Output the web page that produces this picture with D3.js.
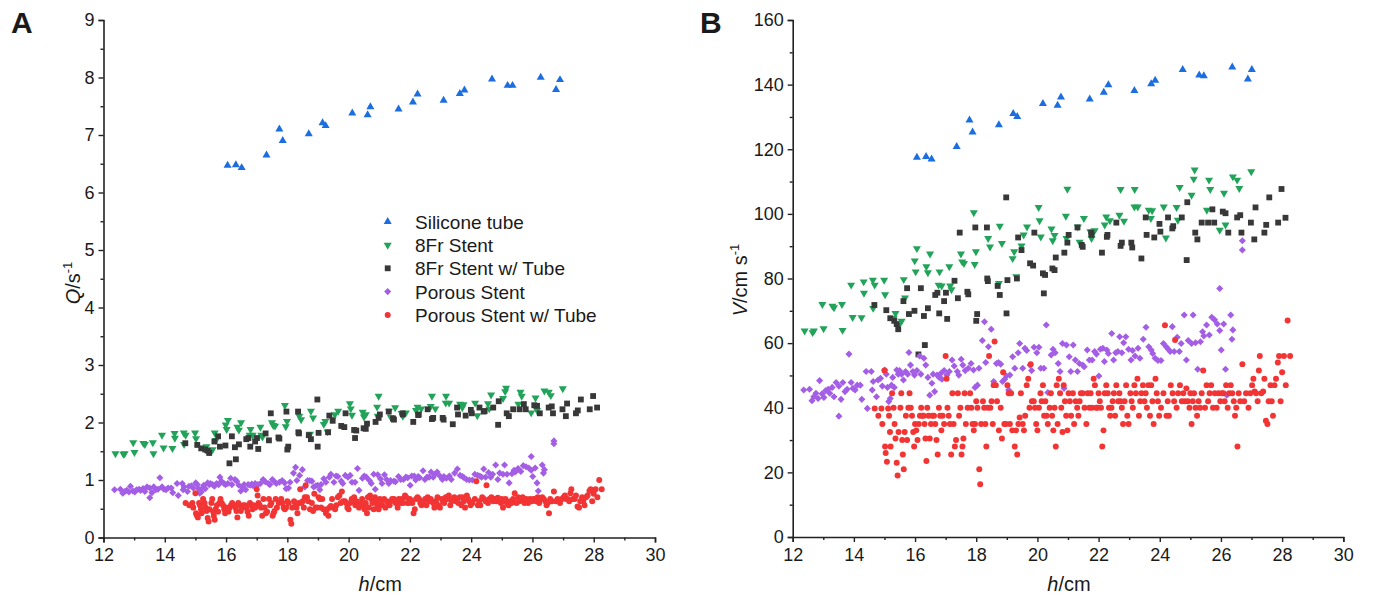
<!DOCTYPE html>
<html><head><meta charset="utf-8">
<script src="https://cdn.jsdelivr.net/npm/d3@7"></script>
<style>
body{margin:0;background:#fff}
svg{display:block}
text{font-family:"Liberation Sans",Arial,Helvetica,sans-serif;fill:#1a1a1a}
</style>
</head><body>
<svg id="chart" width="1373" height="601"></svg>
<script>
// ---------- tick labels ----------
const hTicks = [12, 14, 16, 18, 20, 22, 24, 26, 28, 30];
const hMinor = [13, 15, 17, 19, 21, 23, 25, 27, 29];
const qTicks = [0, 1, 2, 3, 4, 5, 6, 7, 8, 9];
const qMinor = [0.5, 1.5, 2.5, 3.5, 4.5, 5.5, 6.5, 7.5, 8.5];
const vTicks = [0, 20, 40, 60, 80, 100, 120, 140, 160];
const vMinor = [10, 30, 50, 70, 90, 110, 130, 150];

// ---------- categories ----------
const seriesNames = ["Silicone tube", "8Fr Stent", "8Fr Stent w/ Tube", "Porous Stent", "Porous Stent w/ Tube"];
const seriesColors = ["#1c6ee0", "#22a35a", "#383838", "#a45ee6", "#f23434"];

// ---------- Silicone tube ----------
const hSilicone = [16.05,16.32,16.51,17.32,17.74,17.85,18.70,19.15,19.25,20.12,20.62,20.71,21.63,22.10,22.25,23.10,23.63,23.78,24.68,25.19,25.35,26.27,26.77,26.90];
const qSilicone = [6.47,6.48,6.43,6.65,7.10,6.90,7.02,7.21,7.16,7.38,7.35,7.49,7.45,7.57,7.71,7.60,7.72,7.78,7.97,7.86,7.86,8.00,7.79,7.96];
const hSiliconeB = [16.06,16.36,16.54,17.36,17.78,17.88,18.74,19.21,19.34,20.18,20.66,20.77,21.71,22.17,22.32,23.17,23.72,23.85,24.75,25.29,25.44,26.37,26.88,27.01];
const vSilicone = [117.5,117.7,116.9,120.8,129.0,125.3,127.5,131.0,130.1,134.1,133.6,136.1,135.5,137.6,139.9,138.1,140.2,141.3,144.6,142.9,142.7,145.4,141.7,144.6];

// ---------- 8Fr Stent ----------
const h8Fr = [12.39,12.65,12.69,12.97,13.01,13.30,13.35,13.61,13.63,13.91,13.96,14.25,14.32,14.33,14.62,14.63,14.68,14.99,15.02,15.30,15.36,15.47,15.56,15.63,15.67,15.99,16.02,16.06,16.37,16.42,16.49,16.77,16.80,16.87,17.12,17.15,17.19,17.50,17.54,17.60,17.92,17.95,17.99,18.39,18.45,18.74,18.77,18.84,19.19,19.24,19.31,19.48,19.55,19.66,20.04,20.07,20.11,20.46,20.50,20.56,20.93,20.95,20.98,21.32,21.38,21.52,21.73,21.77,21.87,22.20,22.25,22.37,22.68,22.72,22.83,23.17,23.18,23.28,23.64,23.71,23.75,24.13,24.20,24.55,24.59,24.65,25.04,25.11,25.14,25.54,25.61,25.65,25.96,26.10,26.15,26.39,26.53,26.60,26.99];
const v8Fr = [63.8,63.3,63.8,72.0,64.5,71.5,71.0,72.0,64.0,78.0,68.0,67.9,79.0,75.5,79.5,70.8,78.0,79.5,75.0,67.7,69.2,65.6,66.8,79.7,74.0,85.5,82.1,89.3,83.7,81.8,87.6,78.0,82.1,77.7,83.7,77.7,76.6,87.6,85.2,84.7,100.4,84.4,88.3,92.4,89.8,78.5,96.2,90.9,86.2,88.3,80.6,90.1,93.5,96.0,102.0,97.9,92.9,95.4,91.7,93.4,99.3,92.4,107.7,96.0,91.3,98.6,94.5,92.4,94.8,96.6,99.1,97.9,99.6,107.6,97.8,102.2,107.6,102.2,101.2,98.6,101.0,102.2,92.6,102.0,98.1,108.2,105.8,110.8,113.6,101.2,110.5,107.6,95.0,106.4,96.6,111.5,110.5,107.9,113.1];
const q8Fr = [1.46,1.45,1.46,1.65,1.48,1.64,1.62,1.65,1.46,1.78,1.56,1.55,1.81,1.73,1.82,1.62,1.78,1.82,1.72,1.55,1.58,1.50,1.53,1.82,1.69,1.96,1.88,2.04,1.92,1.87,2.00,1.78,1.88,1.78,1.92,1.78,1.75,2.00,1.95,1.94,2.30,1.93,2.02,2.11,2.05,1.80,2.20,2.08,1.97,2.02,1.84,2.06,2.14,2.20,2.33,2.24,2.13,2.18,2.10,2.14,2.27,2.11,2.46,2.20,2.09,2.26,2.16,2.11,2.17,2.21,2.27,2.24,2.28,2.46,2.24,2.34,2.46,2.34,2.32,2.26,2.31,2.34,2.12,2.33,2.24,2.48,2.42,2.54,2.60,2.32,2.53,2.46,2.17,2.43,2.21,2.55,2.53,2.47,2.59];

// ---------- 8Fr Stent w/ Tube ----------
const h8FrT = [14.67,15.06,15.19,15.32,15.40,15.45,15.62,15.74,15.80,15.98,16.11,16.19,16.29,16.32,16.42,16.66,16.73,16.79,16.95,17.01,17.05,17.29,17.40,17.46,17.71,17.74,17.97,18.00,18.03,18.35,18.36,18.38,18.70,18.77,18.98,18.99,19.02,19.33,19.37,19.48,19.76,19.86,19.90,20.18,20.21,20.25,20.49,20.56,20.60,20.88,20.98,21.02,21.31,21.45,21.48,21.76,21.77,22.11,22.27,22.29,22.58,22.72,22.76,23.07,23.10,23.40,23.54,23.57,23.82,23.99,24.02,24.27,24.41,24.44,24.72,24.88,24.90,25.16,25.23,25.37,25.58,25.72,25.78,26.06,26.15,26.24,26.53,26.63,26.67,26.98,27.09,27.13,27.42,27.48,27.58,27.87,27.98,28.11];
const v8FrT = [71.8,70.2,67.7,66.9,65.9,64.3,73.0,77.0,69.0,70.0,56.5,77.0,68.4,59.4,70.8,74.9,75.6,69.2,73.0,75.6,67.5,79.3,73.9,94.2,75.9,75.1,95.8,66.9,69.0,95.8,80.0,79.2,77.7,74.9,105.1,69.2,79.5,80.0,92.7,88.8,84.7,84.0,94.2,81.6,75.4,81.1,83.1,82.6,86.5,88.0,91.1,93.5,95.8,90.4,89.8,94.2,93.5,88.0,92.9,93.5,97.3,90.1,91.1,91.1,89.6,86.2,98.9,93.5,92.7,96.9,94.5,98.9,95.5,96.2,98.9,85.7,103.6,94.2,92.1,97.3,97.3,101.4,97.3,100.7,100.2,94.2,98.9,99.6,94.2,97.3,92.1,102.0,94.2,96.6,105.1,97.3,107.7,98.8];
const q8FrT = [1.64,1.61,1.55,1.53,1.51,1.47,1.67,1.76,1.58,1.60,1.29,1.76,1.57,1.36,1.62,1.71,1.73,1.58,1.67,1.73,1.54,1.81,1.69,2.16,1.74,1.72,2.19,1.53,1.58,2.19,1.83,1.81,1.78,1.71,2.40,1.58,1.82,1.83,2.12,2.03,1.94,1.92,2.16,1.87,1.73,1.86,1.90,1.89,1.98,2.01,2.08,2.14,2.19,2.07,2.05,2.16,2.14,2.01,2.13,2.14,2.23,2.06,2.08,2.08,2.05,1.97,2.26,2.14,2.12,2.22,2.16,2.26,2.19,2.20,2.26,1.96,2.37,2.16,2.11,2.23,2.23,2.32,2.23,2.30,2.29,2.16,2.26,2.28,2.16,2.23,2.11,2.33,2.16,2.21,2.40,2.23,2.46,2.26];

// ---------- Porous Stent ----------
const hPorous = [12.36,12.55,12.63,12.69,12.76,12.83,12.88,12.96,13.02,13.08,13.16,13.21,13.29,13.35,13.42,13.51,13.51,13.58,13.64,13.71,13.78,13.84,13.91,13.97,14.04,14.11,14.21,14.26,14.40,14.44,14.57,14.60,14.63,14.74,14.79,14.87,14.93,15.01,15.06,15.10,15.14,15.19,15.23,15.27,15.32,15.40,15.45,15.49,15.56,15.62,15.69,15.76,15.80,15.85,15.93,15.98,16.06,16.15,16.19,16.29,16.35,16.42,16.48,16.55,16.59,16.64,16.72,16.79,16.84,16.88,16.95,17.04,17.12,17.21,17.28,17.38,17.43,17.51,17.56,17.64,17.74,17.83,17.91,17.96,18.04,18.09,18.20,18.27,18.31,18.40,18.49,18.57,18.66,18.73,18.80,18.86,18.93,18.99,19.06,19.10,19.19,19.26,19.37,19.42,19.52,19.59,19.65,19.76,19.81,19.89,19.98,20.05,20.11,20.21,20.29,20.34,20.45,20.51,20.58,20.68,20.74,20.82,20.87,20.95,21.04,21.09,21.17,21.24,21.31,21.37,21.48,21.53,21.63,21.70,21.79,21.87,21.93,22.01,22.06,22.14,22.19,22.27,22.32,22.43,22.49,22.56,22.63,22.69,22.76,22.82,22.89,22.98,23.06,23.11,23.19,23.29,23.35,23.46,23.55,23.64,23.72,23.77,23.85,23.94,24.04,24.12,24.21,24.28,24.34,24.41,24.47,24.57,24.64,24.70,24.80,24.87,24.93,25.04,25.09,25.17,25.24,25.33,25.40,25.44,25.53,25.62,25.70,25.79,25.88,25.96,25.96,26.01,26.09,26.15,26.19,26.32,26.36,26.39,26.70,26.70];
const vPorous = [45.5,45.7,42.2,43.4,44.5,42.9,48.4,44.3,43.2,45.3,45.7,44.5,46.3,43.4,47.8,46.7,37.4,42.6,47.8,45.0,45.7,56.6,47.8,46.0,45.5,47.0,47.0,42.6,51.2,39.8,51.2,45.5,48.1,43.4,48.6,49.1,46.7,51.7,50.4,46.3,41.9,42.9,47.0,49.4,46.3,51.7,50.4,51.5,50.4,48.6,51.2,50.4,57.1,53.2,51.2,50.1,51.5,56.0,50.4,55.3,53.2,49.4,43.9,47.6,50.4,45.0,50.1,49.4,50.6,48.8,51.5,50.1,51.2,54.8,52.9,51.2,50.1,55.0,53.2,51.5,52.2,53.7,51.7,46.3,47.0,52.2,60.8,66.6,54.0,58.9,64.3,48.1,53.7,54.0,53.5,48.1,48.8,49.8,45.5,50.1,55.8,52.2,57.0,59.9,52.2,58.4,57.7,53.2,51.5,58.7,57.0,58.7,52.2,52.2,65.6,44.7,56.3,58.1,57.0,53.7,51.2,59.9,46.0,59.4,55.8,51.2,59.4,54.8,51.2,53.7,53.2,52.7,57.9,54.8,54.8,57.4,56.6,49.8,58.1,58.4,54.3,57.9,56.8,63.0,54.8,57.0,57.4,62.0,57.0,60.1,62.0,58.1,54.8,57.7,56.0,58.4,55.3,61.2,64.9,58.9,57.9,56.8,55.3,54.6,54.6,59.9,58.9,58.1,57.4,65.1,57.4,61.8,57.4,59.9,68.7,54.8,60.8,59.9,68.7,60.1,51.9,60.4,63.5,62.2,65.6,62.5,68.0,67.2,65.9,63.9,76.9,57.9,65.9,51.9,43.9,68.7,61.2,64.1,91.7,88.8];
const qPorous = [0.83,0.84,0.77,0.80,0.82,0.79,0.89,0.81,0.79,0.83,0.84,0.82,0.85,0.80,0.88,0.86,0.69,0.78,0.88,0.83,0.84,1.04,0.88,0.84,0.83,0.86,0.86,0.78,0.94,0.73,0.94,0.83,0.88,0.80,0.89,0.90,0.86,0.95,0.92,0.85,0.77,0.79,0.86,0.91,0.85,0.95,0.92,0.94,0.92,0.89,0.94,0.92,1.05,0.98,0.94,0.92,0.94,1.03,0.92,1.01,0.98,0.91,0.81,0.87,0.92,0.83,0.92,0.91,0.93,0.90,0.94,0.92,0.94,1.01,0.97,0.94,0.92,1.01,0.98,0.94,0.96,0.99,0.95,0.85,0.86,0.96,1.12,1.22,0.99,1.08,1.18,0.88,0.99,0.99,0.98,0.88,0.90,0.91,0.83,0.92,1.02,0.96,1.05,1.10,0.96,1.07,1.06,0.98,0.94,1.08,1.05,1.08,0.96,0.96,1.20,0.82,1.03,1.07,1.05,0.99,0.94,1.10,0.84,1.09,1.02,0.94,1.09,1.01,0.94,0.99,0.98,0.97,1.06,1.01,1.01,1.05,1.04,0.91,1.07,1.07,1.00,1.06,1.04,1.16,1.01,1.05,1.05,1.14,1.05,1.10,1.14,1.07,1.01,1.06,1.03,1.07,1.01,1.12,1.19,1.08,1.06,1.04,1.01,1.00,1.00,1.10,1.08,1.07,1.05,1.19,1.05,1.13,1.05,1.10,1.26,1.01,1.12,1.10,1.26,1.10,0.95,1.11,1.17,1.14,1.20,1.15,1.25,1.23,1.21,1.17,1.41,1.06,1.21,0.95,0.81,1.26,1.12,1.18,1.68,1.63];

// ---------- Porous Stent w/ Tube ----------
const hPorT = [14.68,14.80,14.90,14.93,15.00,15.02,15.04,15.08,15.12,15.15,15.18,15.20,15.25,15.30,15.33,15.36,15.40,15.43,15.46,15.52,15.55,15.58,15.60,15.63,15.66,15.70,15.74,15.78,15.82,15.86,15.90,15.94,15.97,16.00,16.04,16.08,16.12,16.16,16.20,16.24,16.28,16.31,16.34,16.37,16.40,16.44,16.48,16.52,16.56,16.62,16.66,16.70,16.74,16.78,16.82,16.86,16.90,16.95,17.00,17.03,17.06,17.10,17.14,17.18,17.22,17.26,17.30,17.34,17.40,17.44,17.48,17.52,17.55,17.58,17.62,17.66,17.72,17.80,17.84,17.88,17.92,17.96,18.00,18.04,18.10,18.13,18.16,18.22,18.26,18.30,18.33,18.38,18.42,18.46,18.50,18.54,18.57,18.60,18.64,18.68,18.74,18.80,18.84,18.88,18.92,18.97,19.02,19.06,19.10,19.14,19.18,19.26,19.30,19.34,19.38,19.42,19.46,19.52,19.56,19.60,19.65,19.70,19.74,19.78,19.82,19.88,19.92,19.96,20.00,20.05,20.10,20.14,20.18,20.22,20.26,20.30,20.34,20.40,20.44,20.48,20.52,20.56,20.60,20.63,20.66,20.70,20.74,20.78,20.82,20.86,20.90,20.94,20.98,21.02,21.06,21.10,21.16,21.20,21.25,21.30,21.34,21.38,21.42,21.48,21.54,21.60,21.64,21.70,21.74,21.78,21.84,21.88,21.92,21.96,22.00,22.04,22.08,22.12,22.16,22.20,22.25,22.30,22.34,22.38,22.42,22.46,22.50,22.54,22.58,22.64,22.68,22.72,22.76,22.80,22.85,22.90,22.94,22.98,23.04,23.08,23.12,23.17,23.22,23.27,23.32,23.36,23.40,23.45,23.50,23.54,23.58,23.63,23.68,23.72,23.76,23.80,23.86,23.90,23.94,23.98,24.04,24.12,24.17,24.22,24.26,24.30,24.36,24.42,24.47,24.50,24.55,24.60,24.66,24.72,24.77,24.82,24.87,24.92,24.97,25.00,25.04,25.08,25.12,25.17,25.22,25.27,25.32,25.37,25.42,25.48,25.53,25.58,25.63,25.68,25.74,25.80,25.86,25.92,25.98,26.03,26.08,26.12,26.17,26.22,26.27,26.32,26.37,26.42,26.46,26.50,26.54,26.58,26.63,26.70,26.76,26.82,26.90,26.96,27.02,27.06,27.10,27.15,27.20,27.24,27.27,27.32,27.38,27.42,27.47,27.52,27.56,27.62,27.66,27.70,27.75,27.80,27.86,27.90,27.95,28.00,28.06,28.12,28.18,28.26];
const vPorT = [39.8,37.5,39.8,35.0,51.5,28.0,26.0,23.3,39.8,37.5,32.5,28.0,44.5,40.0,35.0,30.5,23.0,19.0,32.5,40.0,44.5,30.0,25.5,21.0,32.5,37.5,30.0,40.0,44.5,40.0,37.5,32.5,28.0,35.0,33.0,30.0,35.0,37.5,40.0,37.5,37.5,35.0,30.5,23.5,40.0,37.5,30.5,35.0,37.5,37.5,35.0,30.0,25.5,40.0,37.5,33.0,37.5,35.0,56.0,49.0,40.0,37.5,35.0,25.5,44.5,35.0,28.0,30.0,44.5,37.5,40.0,25.5,28.0,30.5,44.5,35.0,40.0,44.5,40.0,35.0,33.0,35.0,42.0,40.0,21.0,16.3,35.0,42.0,40.0,35.0,28.0,40.0,56.0,40.0,42.0,35.0,47.0,60.5,47.0,42.0,33.0,40.0,30.5,51.0,35.0,35.0,47.0,44.5,35.0,44.5,33.0,28.0,33.0,25.5,35.0,37.0,44.5,35.0,33.0,37.5,47.0,49.0,40.0,53.5,42.0,42.0,40.0,35.0,33.0,40.0,44.5,42.0,47.0,37.5,42.0,37.5,35.0,40.0,44.5,37.5,33.0,40.0,28.0,47.0,35.0,49.0,44.5,40.0,32.5,47.0,42.0,37.5,33.0,44.5,42.0,37.5,44.5,35.0,42.0,40.0,37.5,42.0,44.5,44.5,40.0,35.0,44.5,40.0,44.5,40.0,49.0,47.0,40.0,40.0,44.5,42.0,40.0,28.0,33.0,44.5,47.0,44.5,40.0,37.5,40.0,42.0,44.5,37.5,47.0,42.0,44.5,42.0,40.0,35.0,42.0,47.0,37.5,35.0,44.5,42.0,40.0,47.0,44.5,49.0,37.5,42.0,44.5,47.0,42.0,44.5,40.0,47.0,37.5,47.0,42.0,35.0,49.0,44.5,42.0,37.5,40.0,44.5,65.5,37.5,42.0,37.5,47.0,44.5,42.0,61.0,40.0,44.5,47.0,42.0,44.5,42.0,46.0,42.0,40.0,44.5,35.0,42.0,44.5,40.0,37.5,42.0,40.0,44.5,51.5,40.0,47.0,42.0,44.5,47.0,40.0,44.5,40.0,44.5,42.0,44.5,44.5,42.0,47.0,40.0,44.5,47.0,44.5,42.0,37.5,40.0,28.0,44.5,42.0,53.5,42.0,44.5,40.0,44.5,47.0,49.0,45.0,44.5,42.0,51.5,56.0,44.5,45.0,49.0,36.0,35.0,42.0,47.0,42.0,37.5,47.0,49.0,54.0,56.0,42.0,51.0,56.0,47.0,67.0,56.0];
const qPorT = [0.60,0.56,0.60,0.52,0.77,0.42,0.39,0.35,0.60,0.56,0.49,0.42,0.67,0.60,0.52,0.46,0.34,0.28,0.49,0.60,0.67,0.45,0.38,0.31,0.49,0.56,0.45,0.60,0.67,0.60,0.56,0.49,0.42,0.52,0.49,0.45,0.52,0.56,0.60,0.56,0.56,0.52,0.46,0.35,0.60,0.56,0.46,0.52,0.56,0.56,0.52,0.45,0.38,0.60,0.56,0.49,0.56,0.52,0.84,0.73,0.60,0.56,0.52,0.38,0.67,0.52,0.42,0.45,0.67,0.56,0.60,0.38,0.42,0.46,0.67,0.52,0.60,0.67,0.60,0.52,0.49,0.52,0.63,0.60,0.31,0.24,0.52,0.63,0.60,0.52,0.42,0.60,0.84,0.60,0.63,0.52,0.70,0.91,0.70,0.63,0.49,0.60,0.46,0.76,0.52,0.52,0.70,0.67,0.52,0.67,0.49,0.42,0.49,0.38,0.52,0.55,0.67,0.52,0.49,0.56,0.70,0.73,0.60,0.80,0.63,0.63,0.60,0.52,0.49,0.60,0.67,0.63,0.70,0.56,0.63,0.56,0.52,0.60,0.67,0.56,0.49,0.60,0.42,0.70,0.52,0.73,0.67,0.60,0.49,0.70,0.63,0.56,0.49,0.67,0.63,0.56,0.67,0.52,0.63,0.60,0.56,0.63,0.67,0.67,0.60,0.52,0.67,0.60,0.67,0.60,0.73,0.70,0.60,0.60,0.67,0.63,0.60,0.42,0.49,0.67,0.70,0.67,0.60,0.56,0.60,0.63,0.67,0.56,0.70,0.63,0.67,0.63,0.60,0.52,0.63,0.70,0.56,0.52,0.67,0.63,0.60,0.70,0.67,0.73,0.56,0.63,0.67,0.70,0.63,0.67,0.60,0.70,0.56,0.70,0.63,0.52,0.73,0.67,0.63,0.56,0.60,0.67,0.98,0.56,0.63,0.56,0.70,0.67,0.63,0.91,0.60,0.67,0.70,0.63,0.67,0.63,0.69,0.63,0.60,0.67,0.52,0.63,0.67,0.60,0.56,0.63,0.60,0.67,0.77,0.60,0.70,0.63,0.67,0.70,0.60,0.67,0.60,0.67,0.63,0.67,0.67,0.63,0.70,0.60,0.67,0.70,0.67,0.63,0.56,0.60,0.42,0.67,0.63,0.80,0.63,0.67,0.60,0.67,0.70,0.73,0.67,0.67,0.63,0.77,0.84,0.67,0.67,0.73,0.54,0.52,0.63,0.70,0.63,0.56,0.70,0.73,0.81,0.84,0.63,0.76,0.84,0.70,1.00,0.84];

// ---------- drawing ----------
const svg = d3.select("#chart");

function symbolFor(i) {
  if (i === 0 || i === 1) return d3.symbol().type(d3.symbolTriangle).size(28)();
  if (i === 2) return d3.symbol().type(d3.symbolSquare).size(34)();
  if (i === 3) return d3.symbol().type(d3.symbolSquare).size(25)();
  return d3.symbol().type(d3.symbolCircle).size(28)();
}
function rot(i) { return i === 1 ? " rotate(180)" : (i === 3 ? " rotate(45)" : ""); }

function drawPanel(cfg) {
  const g = svg.append("g");
  const x = d3.scaleLinear().domain([12, 30]).range([cfg.x0, cfg.x1]);
  const y = d3.scaleLinear().domain([0, cfg.ymax]).range([cfg.y0, cfg.y1]);

  g.append("g").attr("transform", `translate(0,${cfg.y0})`)
    .call(d3.axisBottom(x).tickValues(hMinor).tickSize(3).tickFormat(""))
    .call(a => a.select(".domain").remove());
  g.append("g").attr("transform", `translate(${cfg.x0},0)`)
    .call(d3.axisLeft(y).tickValues(cfg.minor).tickSize(3).tickFormat(""))
    .call(a => a.select(".domain").remove());
  const xa = g.append("g").attr("transform", `translate(0,${cfg.y0})`)
    .call(d3.axisBottom(x).tickValues(hTicks).tickSize(5).tickSizeOuter(5).tickPadding(6).tickFormat(d3.format("d")));
  const ya = g.append("g").attr("transform", `translate(${cfg.x0},0)`)
    .call(d3.axisLeft(y).tickValues(cfg.ticks).tickSize(5).tickSizeOuter(5).tickPadding(4).tickFormat(d3.format("d")));
  [xa, ya].forEach(a => {
    a.selectAll("text").attr("font-size", 18).attr("fill", "#1a1a1a").style("font-family", '"Liberation Sans",Arial,sans-serif');
    a.select(".domain").attr("stroke", "#222").attr("stroke-width", 1.6);
  });
  g.selectAll(".tick line").attr("stroke", "#222").attr("stroke-width", 1.4);

  const xt = g.append("text").attr("x", (cfg.x0 + cfg.x1) / 2 + 1).attr("y", 591)
    .attr("text-anchor", "middle").attr("font-size", 20);
  xt.append("tspan").attr("font-style", "italic").text("h");
  xt.append("tspan").text("/cm");

  const yt = g.append("text").attr("transform", `translate(${cfg.ytx},${cfg.yty}) rotate(-90)`)
    .attr("text-anchor", "middle").attr("font-size", 20);
  yt.append("tspan").attr("font-style", "italic").text(cfg.ysym);
  yt.append("tspan").text(cfg.yunit);
  yt.append("tspan").attr("font-size", 13).attr("dy", -8).text("-1");

  g.append("text").attr("x", cfg.lx).attr("y", 33).attr("font-size", 30).attr("font-weight", "bold").text(cfg.letter);

  cfg.series.forEach((s, i) => {
    g.append("g").selectAll("path").data(d3.zip(s[0], s[1])).join("path")
      .attr("d", symbolFor(i))
      .attr("transform", d => `translate(${x(d[0])},${y(d[1])})${rot(i)}`)
      .attr("fill", seriesColors[i]);
  });
}

drawPanel({
  letter: "A", lx: 11, x0: 103.5, x1: 655, y0: 537.5, y1: 20, ymax: 9,
  ticks: qTicks, minor: qMinor, ysym: "Q", yunit: "/s", ytx: 80, yty: 283,
  series: [[hSilicone, qSilicone], [h8Fr, q8Fr], [h8FrT, q8FrT], [hPorous, qPorous], [hPorT, qPorT]]
});
drawPanel({
  letter: "B", lx: 700, x0: 792.7, x1: 1343.3, y0: 537, y1: 20, ymax: 160,
  ticks: vTicks, minor: vMinor, ysym: "V", yunit: "/cm s", ytx: 747, yty: 280,
  series: [[hSiliconeB, vSilicone], [h8Fr, v8Fr], [h8FrT, v8FrT], [hPorous, vPorous], [hPorT, vPorT]]
});

// legend (panel A)
const leg = svg.append("g");
seriesNames.forEach((name, i) => {
  const yy = 221.7 + i * 23.3;
  leg.append("path").attr("d", symbolFor(i)).attr("fill", seriesColors[i])
    .attr("transform", `translate(387.7,${yy})${rot(i)}`);
  leg.append("text").attr("x", 415).attr("y", yy + 7).attr("font-size", 19).text(name);
});
</script>
</body></html>
